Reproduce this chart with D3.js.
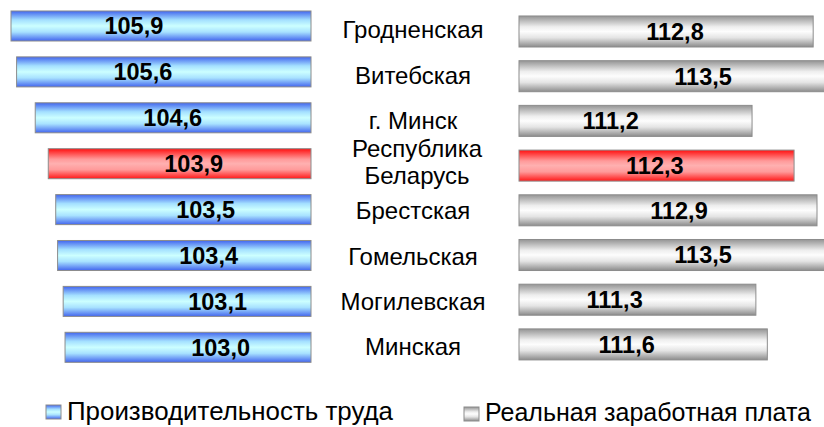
<!DOCTYPE html>
<html>
<head>
<meta charset="utf-8">
<script src="https://cdn.jsdelivr.net/npm/d3@7"></script>
<style>
  body { margin: 0; background: #fff; }
  text { font-family: "Liberation Sans", Arial, sans-serif; }
</style>
</head>
<body>
<div class="chart"></div>
<script>
// regions, top to bottom
var categories = ["Гродненская", "Витебская", "г. Минск", "Республика\nБеларусь",
                  "Брестская", "Гомельская", "Могилевская", "Минская"];
// Производительность труда, %
var productivity = [105.9, 105.6, 104.6, 103.9, 103.5, 103.4, 103.1, 103.0];
// Реальная заработная плата, %
var wages = [112.8, 113.5, 111.2, 112.3, 112.9, 113.5, 111.3, 111.6];
var highlight = "Республика\nБеларусь";
var legendLabels = ["Производительность труда", "Реальная заработная плата"];

var w = 824, h = 427;

var svg = d3.select("div.chart")
            .append("svg")
            .attr("width", w)
            .attr("height", h);

var fmt = function(v){ return d3.format(".1f")(v).replace(".", ","); };

// gradients
var defs = svg.append("defs");
function grad(id, stops){
  var g = defs.append("linearGradient")
              .attr("id", id)
              .attr("x1", 0).attr("y1", 0)
              .attr("x2", 0).attr("y2", 1);
  stops.forEach(function(s){
    g.append("stop").attr("offset", s[0]).attr("stop-color", s[1]);
  });
}
grad("blue", [[0, "#4265ee"], [0.3, "#a4e0ff"], [0.5, "#ccffff"], [0.7, "#a8e2ff"], [1, "#4265ee"]]);
grad("gray", [[0, "#949494"], [0.35, "#eeeeee"], [0.5, "#fdfdfd"], [0.7, "#e4e4e4"], [1, "#8c8c8c"]]);
grad("red",  [[0, "#ff1010"], [0.35, "#ff9a9a"], [0.5, "#ffb0b0"], [0.7, "#ff9a9a"], [1, "#ff1818"]]);

// scales
var yL = d3.scaleBand().domain(categories).range([-4.9, 378.2]).padding(0.346);
var yR = d3.scaleBand().domain(categories).range([2.3, 373.6]).padding(0.306);

var xL = d3.scaleLinear().domain([89.8, 105.9]).range([311, 11]);
var xR = d3.scaleLinear().domain([105.1, 112.9]).range([519, 817]);

// label positions inside the bars
var lblL = d3.scaleLinear().domain([103.0, 105.9]).range([220.6, 133.9]);
var lblR = d3.scaleLinear().domain([111.2, 113.5]).range([610.6, 703.1]);

var rowsL = categories.map(function(c, i){ return {cat: c, v: productivity[i]}; });
var rowsR = categories.map(function(c, i){ return {cat: c, v: wages[i]}; });

// left bars
svg.selectAll(".barL")
   .data(rowsL)
   .enter()
   .append("rect")
     .attr("class", "barL")
     .attr("x", function(d){ return xL(d.v); })
     .attr("y", function(d){ return yL(d.cat); })
     .attr("width", function(d){ return xL(89.8) - xL(d.v); })
     .attr("height", yL.bandwidth())
     .attr("fill", function(d){ return d.cat === highlight ? "url(#red)" : "url(#blue)"; })
     .attr("stroke", "#8c8c8c")
     .attr("stroke-width", 1);

svg.selectAll(".valL")
   .data(rowsL)
   .enter()
   .append("text")
     .attr("class", "valL")
     .attr("x", function(d){ return lblL(d.v); })
     .attr("y", function(d){ return yL(d.cat) + yL.bandwidth() / 2 + 8.4; })
     .attr("text-anchor", "middle")
     .attr("font-size", "23.5px")
     .attr("font-weight", "bold")
     .text(function(d){ return fmt(d.v); });

// right bars
svg.selectAll(".barR")
   .data(rowsR)
   .enter()
   .append("rect")
     .attr("class", "barR")
     .attr("x", xR(105.1))
     .attr("y", function(d){ return yR(d.cat); })
     .attr("width", function(d){ return xR(d.v) - xR(105.1); })
     .attr("height", yR.bandwidth())
     .attr("fill", function(d){ return d.cat === highlight ? "url(#red)" : "url(#gray)"; })
     .attr("stroke", "#8c8c8c")
     .attr("stroke-width", 1);

svg.selectAll(".valR")
   .data(rowsR)
   .enter()
   .append("text")
     .attr("class", "valR")
     .attr("x", function(d){ return lblR(d.v); })
     .attr("y", function(d){ return yR(d.cat) + yR.bandwidth() / 2 + 8.4; })
     .attr("text-anchor", "middle")
     .attr("font-size", "23.5px")
     .attr("font-weight", "bold")
     .text(function(d){ return fmt(d.v); });

// category names in the middle
var cats = svg.selectAll(".cat")
   .data(categories)
   .enter()
   .append("text")
     .attr("class", "cat")
     .attr("text-anchor", "middle")
     .attr("font-size", "24px")
     .attr("fill", "#000");

cats.each(function(c){
  var lines = c.split("\n");
  var mid = (yL(c) + yL.bandwidth() / 2 + yR(c) + yR.bandwidth() / 2) / 2;
  var t = d3.select(this);
  if(lines.length === 1){
    t.attr("x", 413).attr("y", mid + 9.5).text(c);
  } else {
    lines.forEach(function(l, k){
      t.append("tspan")
       .attr("x", 417)
       .attr("y", mid - 7.5 + k * 27)
       .text(l);
    });
  }
});

// legend
var legend = [
  {label: legendLabels[0], fill: "url(#blue)", x: 46, y: 405, tx: 67, ty: 420, len: 326},
  {label: legendLabels[1], fill: "url(#gray)", x: 464, y: 407, tx: 485, ty: 421, len: 326}
];

svg.selectAll(".legBox")
   .data(legend)
   .enter()
   .append("rect")
     .attr("x", function(d){ return d.x; })
     .attr("y", function(d){ return d.y; })
     .attr("width", 15)
     .attr("height", 14)
     .attr("fill", function(d){ return d.fill; })
     .attr("stroke", "#8c8c8c");

svg.selectAll(".legText")
   .data(legend)
   .enter()
   .append("text")
     .attr("x", function(d){ return d.tx; })
     .attr("y", function(d){ return d.ty; })
     .attr("font-size", "25px")
     .attr("textLength", function(d){ return d.len; })
     .attr("lengthAdjust", "spacingAndGlyphs")
     .text(function(d){ return d.label; });
</script>
</body>
</html>
